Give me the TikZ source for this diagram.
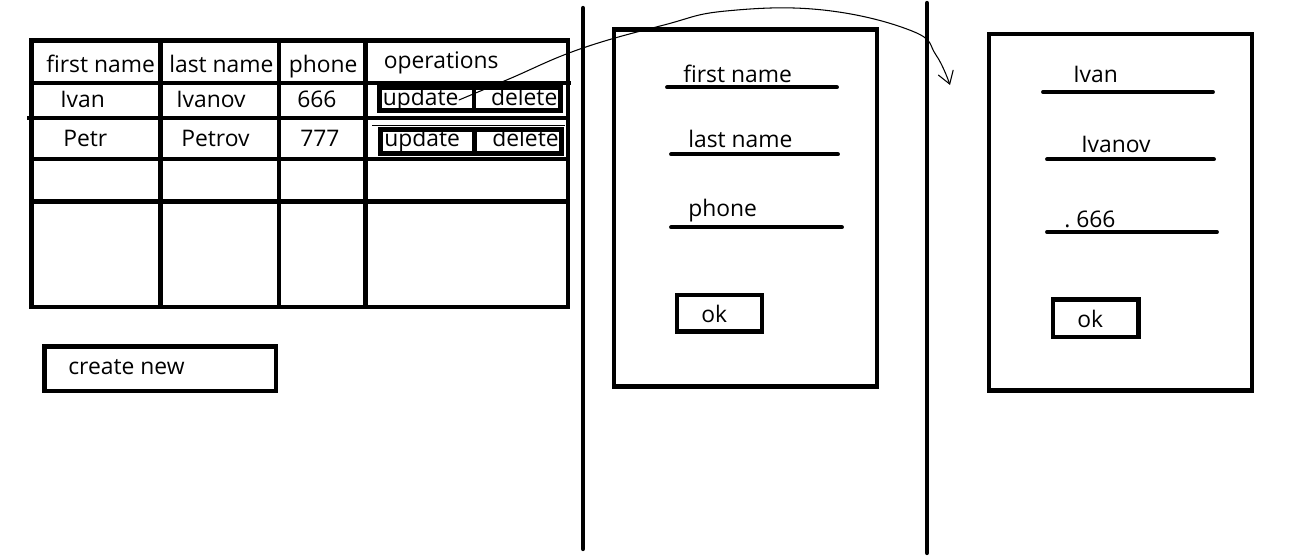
\documentclass[tikz,border=0pt]{standalone}
\usepackage{fontspec}
\setmainfont{Open Sans}
\usetikzlibrary{arrows.meta}
\begin{document}
\begin{tikzpicture}[x=0.02cm,y=-0.02cm,
	gridline/.style={line width=2.5pt},
	btnline/.style={line width=2.8pt},
	divider/.style={line width=2.4pt,line cap=round},
	fieldline/.style={line width=2.2pt,line cap=round},
	txt/.style={anchor=base west,inner sep=0pt,font=\fontsize{13}{15}\selectfont}]
	\useasboundingbox (0,0) rectangle (1308,560);

	%TABLE
	\draw[gridline] (31.5,40.5) rectangle (568,307);		%outer frame
	\foreach \x in {160.5,279,365.5}{				%columns
		\draw[gridline] (\x,40.5)--(\x,307);
	}
	\foreach \y/\a/\b in {83/31.5/571,118/27/568,159/31.5/568,201.5/31.5/568}{	%rows
		\draw[gridline] (\a,\y)--(\b,\y);
	}
	\draw[line width=0.5pt] (372,125)--(565,125);		%stray line, second row

	\node[txt] (hfirst) at (46,73) {first name};		%header
	\node[txt] (hlast) at (169,73) {last name};
	\node[txt] (hphone) at (288.5,73) {phone};
	\node[txt] (hops) at (383.5,69) {operations};

	\node[txt] (first1) at (60,108) {Ivan};			%first row
	\node[txt] (last1) at (176,108) {Ivanov};
	\node[txt] (phone1) at (297,108) {666};
	\node[txt] (first2) at (63,147) {Petr};			%second row
	\node[txt] (last2) at (181,147) {Petrov};
	\node[txt] (phone2) at (300,147) {777};

	%BUTTONS
	\draw[btnline] (379.5,87.5) rectangle (560.5,110.5);	%first row
	\draw[btnline] (474,87.5)--(474,110.5);
	\draw[btnline] (380.5,129.5) rectangle (561.5,153.5);	%second row
	\draw[btnline] (474.5,129.5)--(474.5,153.5);
	\node[txt] (upd1) at (382.5,106) {update};
	\node[txt] (del1) at (490.7,106) {delete};
	\node[txt] (upd2) at (384,147) {update};
	\node[txt] (del2) at (492,147) {delete};

	\draw[gridline] (44.5,346.5) rectangle (276,391);		%create new
	\node[txt] (create) at (68,375) {create new};

	%DIVIDERS
	\draw[divider] (583,8)--(583,549);
	\draw[divider] (927,3)--(927,553);

	%EMPTY FORM
	\draw[gridline] (614,29.5) rectangle (877,386.5);
	\draw[fieldline] (667,87.3)--(837,87.3);
	\draw[fieldline] (671,154.3)--(838,154.3);
	\draw[fieldline] (671,227.3)--(842,227.3);
	\node[txt] (ffirst) at (683,83) {first name};
	\node[txt] (flast) at (688,148) {last name};
	\node[txt] (fphone) at (688,217) {phone};
	\draw[gridline] (677,294.7) rectangle (762,331.5);		%ok button
	\node[txt] (ok1) at (701,323) {ok};

	%FILLED FORM
	\draw[gridline] (989,34) rectangle (1252,390.5);
	\draw[fieldline] (1043,92)--(1213,92);
	\draw[fieldline] (1047,159.3)--(1214,159.3);
	\draw[fieldline] (1047,232)--(1217,232);
	\node[txt] (gfirst) at (1073,83) {Ivan};
	\node[txt] (glast) at (1081,153) {Ivanov};
	\node[txt] (gphone) at (1064,228) {.\ 666};
	\draw[gridline] (1053,299.5) rectangle (1138.5,337);	%ok button
	\node[txt] (ok2) at (1077,328) {ok};

	%ARROW
	\coordinate (tip) at (950,85);
	\draw[line width=0.6pt,-{Straight Barb[length=7pt,width=9pt]}] plot[smooth,tension=0.7]
		coordinates {(upd1.east) (509,79) (580,49) (664,25) (726,11) (823,10) (912,31) (936,55) (tip)};
\end{tikzpicture}
\end{document}
